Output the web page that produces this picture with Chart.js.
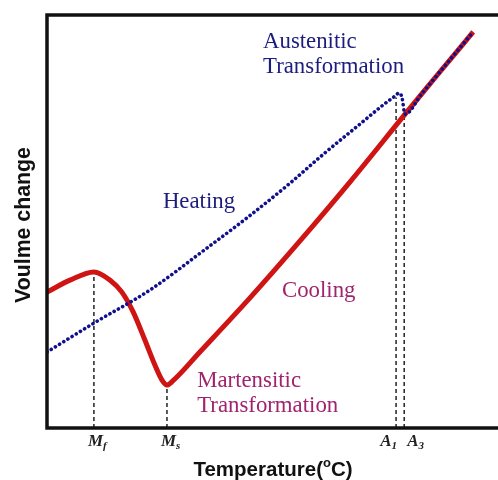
<!DOCTYPE html>
<html>
<head>
<meta charset="utf-8">
<script src="https://cdn.jsdelivr.net/npm/chart.js@4.4.0/dist/chart.umd.min.js"></script>
<style>
  body { margin: 0; background: #fff; }
  canvas { display: block; }
</style>
</head>
<body>
<canvas id="dilatometry" width="498" height="480"></canvas>
<script>
// Heating curve (blue dotted), temperature vs volume change, arbitrary units 0-100
const heatingTemp = [0.0, 10.4, 22.8, 35.5, 44.6, 53.9, 61.6, 69.4, 74.5, 77.2, 78.0, 78.7, 79.4, 83.0, 87.1, 94.5];
const heatingVol  = [18.4, 25.4, 33.4, 43.6, 51.1, 59.3, 66.6, 73.6, 78.2, 80.4, 81.1, 80.1, 76.0, 80.8, 86.2, 95.9];

// Cooling curve (red)
const coolingTemp = [0.0, 5.1, 10.4, 14.0, 16.6, 19.1, 21.7, 23.9, 25.5, 26.6, 27.9, 33.9, 45.0, 56.1, 67.2, 79.4, 83.0, 87.1, 94.5];
const coolingVol  = [32.9, 35.8, 37.8, 35.8, 32.9, 28.1, 21.3, 15.3, 11.6, 10.4, 11.4, 18.4, 31.5, 45.3, 59.6, 76.0, 80.8, 86.2, 95.9];

// Transformation temperatures (tick marks on the x axis)
const markerTemp = [10.4, 26.6, 77.4, 79.2];
const markerTop  = [37.8, 10.4, 80.0, 76.0];
const markerSym  = ['M', 'M', 'A', 'A'];
const markerSub  = ['f', 's', '1', '3'];

// Text notes on the plot
const noteLines = [['Austenitic', 'Transformation'], ['Heating'], ['Cooling'], ['Martensitic', 'Transformation']];
const noteAt    = [[47.9, 92.0], [25.7, 53.3], [52.1, 31.7], [33.3, 9.9]];
const noteColor = ['#1c1c7e', '#1c1c7e', '#a0236e', '#a0236e'];

const toPoints = (xs, ys) => xs.map((x, i) => ({ x: x, y: ys[i] }));

const markerSets = markerTemp.map((t, i) => ({
    data: [{ x: t, y: 0 }, { x: t, y: markerTop[i] }],
    borderColor: '#222',
    borderWidth: 1.5,
    borderDash: [4, 3],
    pointRadius: 0,
    order: 3
}));

// Frame, axis titles, tick labels and notes
const decorPlugin = {
    id: 'decor',
    afterDatasetsDraw(chart) {
        const ctx = chart.ctx;
        const area = chart.chartArea;
        const xs = chart.scales.x;
        const ys = chart.scales.y;
        ctx.save();

        // frame: left, top and bottom (open on the right)
        ctx.strokeStyle = '#111';
        ctx.lineWidth = 3.5;
        ctx.beginPath();
        ctx.moveTo(chart.width, area.top);
        ctx.lineTo(area.left, area.top);
        ctx.lineTo(area.left, area.bottom);
        ctx.lineTo(chart.width, area.bottom);
        ctx.stroke();

        // tick labels with subscripts
        markerTemp.forEach((t, i) => {
            const px = xs.getPixelForValue(t);
            ctx.font = 'italic bold 17px "Liberation Serif"';
            const wM = ctx.measureText(markerSym[i]).width;
            ctx.font = 'italic bold 11px "Liberation Serif"';
            const wS = ctx.measureText(markerSub[i]).width;
            const total = wM + wS + 1;
            let left = px - 6;
            const prev = markerTemp[i - 1], next = markerTemp[i + 1];
            if (next !== undefined && xs.getPixelForValue(next) - px < 20) left = px - total + 2;
            if (prev !== undefined && px - xs.getPixelForValue(prev) < 20) left = px + 3;
            ctx.fillStyle = '#222';
            ctx.textAlign = 'left';
            ctx.textBaseline = 'alphabetic';
            ctx.font = 'italic bold 17px "Liberation Serif"';
            ctx.fillText(markerSym[i], left, area.bottom + 18);
            ctx.font = 'italic bold 11px "Liberation Serif"';
            ctx.fillText(markerSub[i], left + wM, area.bottom + 21);
        });

        // notes
        ctx.font = '22.8px "Liberation Serif"';
        ctx.textAlign = 'left';
        noteLines.forEach((lines, i) => {
            const px = xs.getPixelForValue(noteAt[i][0]);
            const py = ys.getPixelForValue(noteAt[i][1]);
            ctx.fillStyle = noteColor[i];
            lines.forEach((s, j) => ctx.fillText(s, px, py + j * 25));
        });

        // x axis title, degree sign drawn as a raised small "o"
        ctx.fillStyle = '#111';
        const big = 'bold 20.5px "Liberation Sans"';
        const small = 'bold 13px "Liberation Sans"';
        const parts = [['Temperature(', big, 0], ['o', small, -9], ['C)', big, 0]];
        let w = 0;
        parts.forEach(p => { ctx.font = p[1]; w += ctx.measureText(p[0]).width; });
        let x = 273 - w / 2;
        ctx.textAlign = 'left';
        parts.forEach(p => {
            ctx.font = p[1];
            ctx.fillText(p[0], x, 476 + p[2]);
            x += ctx.measureText(p[0]).width;
        });

        // y axis title
        ctx.font = 'bold 21.3px "Liberation Sans"';
        ctx.textAlign = 'center';
        ctx.translate(30, 225);
        ctx.rotate(-Math.PI / 2);
        ctx.fillText('Voulme change', 0, 0);
        ctx.restore();
    }
};

const ctx = document.getElementById('dilatometry').getContext('2d');
const chart = new Chart(ctx, {
    type: 'line',
    data: {
        datasets: [
            {
                label: 'Heating',
                data: toPoints(heatingTemp, heatingVol),
                borderColor: '#10108c',
                borderWidth: 3.6,
                borderDash: [0.1, 4.8],
                borderCapStyle: 'round',
                cubicInterpolationMode: 'monotone',
                pointRadius: 0,
                order: 1
            },
            {
                label: 'Cooling',
                data: toPoints(coolingTemp, coolingVol),
                borderColor: '#cf1414',
                borderWidth: 5,
                borderJoinStyle: 'round',
                cubicInterpolationMode: 'monotone',
                pointRadius: 0,
                order: 2
            },
            ...markerSets
        ]
    },
    options: {
        responsive: false,
        animation: false,
        layout: { padding: { left: 47, top: 15, right: 0, bottom: 52 } },
        plugins: { legend: { display: false }, tooltip: { enabled: false } },
        scales: {
            x: { type: 'linear', min: 0, max: 100, display: false },
            y: { type: 'linear', min: 0, max: 100, display: false }
        }
    },
    plugins: [decorPlugin]
});
</script>
</body>
</html>
